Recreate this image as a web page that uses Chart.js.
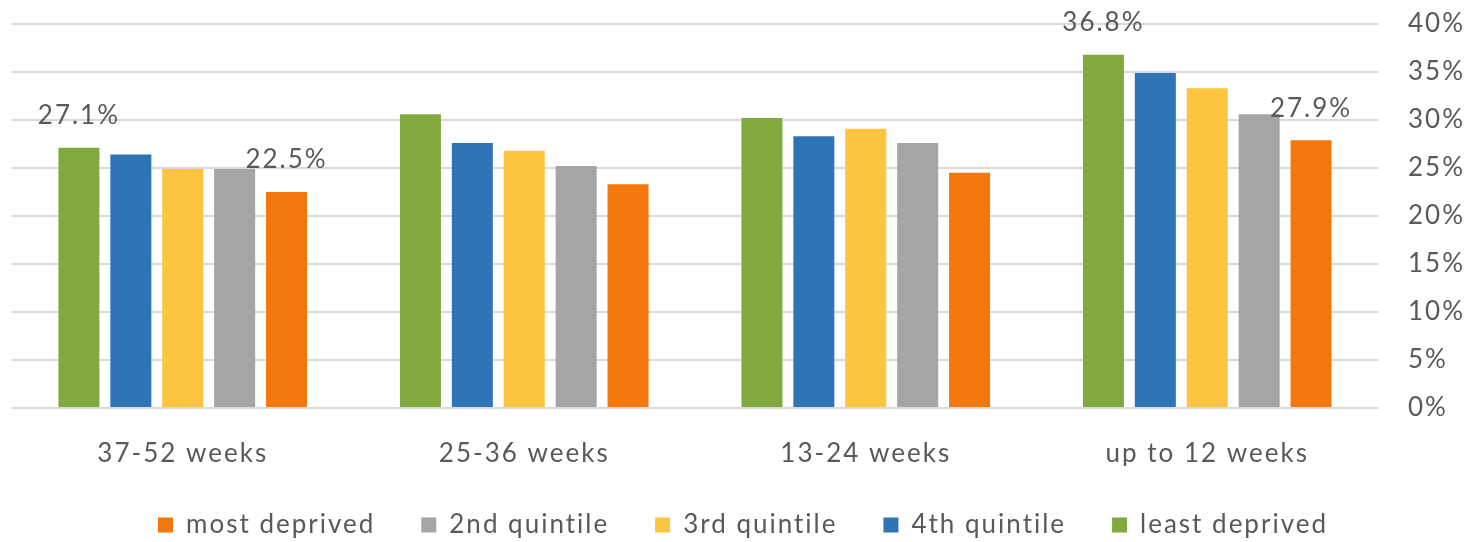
<!DOCTYPE html>
<html>
<head>
<meta charset="utf-8">
<script src="https://cdn.jsdelivr.net/npm/chart.js@4"></script>
<style>
  html, body { margin: 0; padding: 0; background: #fff; }
  #wrap { width: 1474px; height: 542px; }
</style>
</head>
<body>
<div id="wrap"><canvas id="chart"></canvas></div>
<script>
// Data
const categories = ['37-52 weeks', '25-36 weeks', '13-24 weeks', 'up to 12 weeks'];
const seriesNames = ['least deprived', '4th quintile', '3rd quintile', '2nd quintile', 'most deprived'];
const leastDeprived = [27.1, 30.6, 30.2, 36.8];
const quintile4 = [26.4, 27.6, 28.3, 34.9];
const quintile3 = [24.9, 26.8, 29.1, 33.3];
const quintile2 = [24.9, 25.2, 27.6, 30.6];
const mostDeprived = [22.5, 23.3, 24.5, 27.9];
const yTicks = [0, 5, 10, 15, 20, 25, 30, 35, 40];
// which bars carry a value label: [series index, category index]
const labelledBars = [[0, 0], [4, 0], [0, 3], [4, 3]];

const colors = ['#82a93e', '#2e75b6', '#fcc43f', '#a5a5a5', '#f4770e'];
const allSeries = [leastDeprived, quintile4, quintile3, quintile2, mostDeprived];
const textColor = '#595959';
const fontFamily = 'Lato, "Open Sans", sans-serif';

// the original text is spaced out a little; canvas state is reset on resize, so set it each pass
const spacing = {
  id: 'spacing',
  beforeLayout(chart) { chart.ctx.letterSpacing = '2px'; },
  beforeDraw(chart) { chart.ctx.letterSpacing = '2px'; }
};

// legend box height fixed so the wide item padding doesn't eat the plot
const legendHeight = {
  id: 'legendHeight',
  beforeLayout(chart) {
    const lg = chart.legend;
    if (lg && !lg._fitPatched) {
      const fit = lg.fit;
      lg.fit = function () { fit.call(this); this.height = 76; };
      lg._fitPatched = true;
    }
  }
};

// Value labels above selected bars
const barLabels = {
  id: 'barLabels',
  afterDatasetsDraw(chart) {
    const ctx = chart.ctx;
    ctx.save();
    ctx.font = '26px ' + fontFamily;
    ctx.fillStyle = textColor;
    ctx.textAlign = 'center';
    ctx.textBaseline = 'middle';
    labelledBars.forEach(([s, i]) => {
      const bar = chart.getDatasetMeta(s).data[i];
      const v = chart.data.datasets[s].data[i];
      ctx.fillText(v.toFixed(1) + '%', bar.x, bar.y - 32);
    });
    ctx.restore();
  }
};

new Chart(document.getElementById('chart'), {
  type: 'bar',
  data: {
    labels: categories,
    datasets: allSeries.map((d, k) => ({
      label: seriesNames[k],
      data: d,
      backgroundColor: colors[k],
      barPercentage: 0.79,
      categoryPercentage: 0.76
    }))
  },
  options: {
    responsive: true,
    maintainAspectRatio: false,
    animation: false,
    layout: { padding: { left: 12, right: 0, top: 0, bottom: 0 } },
    plugins: {
      legend: {
        position: 'bottom',
        reverse: true,
        labels: {
          boxWidth: 15,
          boxHeight: 15,
          padding: 46,
          color: textColor,
          font: { size: 26, family: fontFamily }
        }
      },
      tooltip: { enabled: false }
    },
    scales: {
      x: {
        grid: { display: false },
        border: { display: false },
        ticks: { color: textColor, font: { size: 26, family: fontFamily }, padding: 22 },
        afterFit: scale => { scale.height = 58; }
      },
      y: {
        position: 'right',
        min: 0,
        max: 40,
        afterBuildTicks: axis => { axis.ticks = yTicks.map(v => ({ value: v })); },
        afterFit: scale => {
          scale.width = 96;
          scale.paddingTop = 24;
          scale.paddingBottom = 0;
        },
        grid: { color: '#d9d9d9', lineWidth: 2, drawTicks: false },
        border: { display: false },
        ticks: {
          color: textColor,
          padding: 30,
          font: { size: 26, family: fontFamily },
          callback: v => v + '%'
        }
      }
    }
  },
  plugins: [spacing, legendHeight, barLabels]
});
</script>
</body>
</html>
